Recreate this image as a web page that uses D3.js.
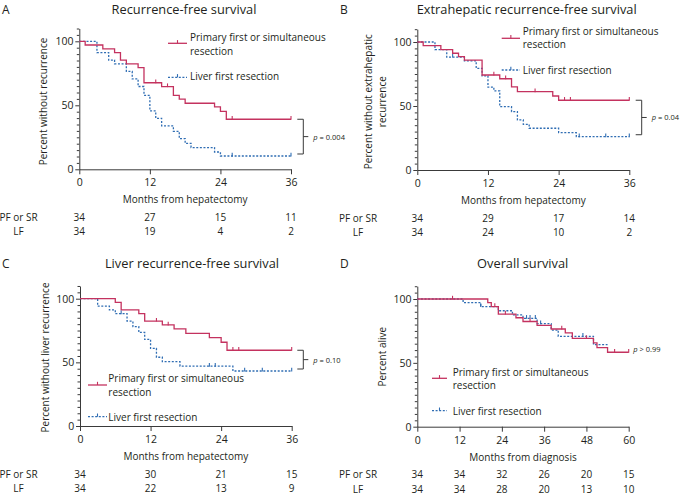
<!DOCTYPE html>
<html><head><meta charset="utf-8">
<script src="https://cdn.jsdelivr.net/npm/d3@7"></script>
<style>
body{margin:0;background:#fff}
svg{display:block}
text{font-family:'Open Sans',sans-serif;fill:#231f20}
</style>
</head><body>
<svg id="c" width="680" height="496"></svg>
<script>
// ---------- DATA ----------
const letters = ["A","B","C","D"];
const titles = ["Recurrence-free survival","Extrahepatic recurrence-free survival","Liver recurrence-free survival","Overall survival"];
const yLabelLines = [["Percent without recurrence"],["Percent without extrahepatic","recurrence"],["Percent without liver recurrence"],["Percent alive"]];
const xLabels = ["Months from hepatectomy","Months from hepatectomy","Months from hepatectomy","Months from diagnosis"];
const xTicks36 = [0,12,24,36];
const xTicks60 = [0,12,24,36,48,60];
const riskRowLabels = ["PF or SR","LF"];
const riskA_PF = [34,27,15,11], riskA_LF = [34,19,4,2];
const riskB_PF = [34,29,17,14], riskB_LF = [34,24,10,2];
const riskC_PF = [34,30,21,15], riskC_LF = [34,22,13,9];
const riskD_PF = [34,34,32,26,20,15], riskD_LF = [34,34,28,20,13,10];
const legendPF = ["Primary first or simultaneous","resection"];
const legendLF = "Liver first resection";
const pLabels = ["= 0.004","= 0.04","= 0.10","> 0.99"];

// Kaplan-Meier steps: [month, percent]
const A_PF = [[0,100],[1,97.1],[4,94.1],[6,91.2],[7,85.3],[8,82.4],[10,79.4],[11,67.6],[14,64.6],[16,57.8],[17,54.9],[18,51.6],[23,48.7],[24,45.3],[25,39.1]];
const A_PF_cens = [13,15,26,36];
const A_LF = [[0,100],[3,91.2],[5,85.3],[6,82.4],[8,76.5],[9,70.6],[10,64.7],[11,57.8],[12,45.6],[13,39.8],[14,34],[16,29.7],[17,24],[18,20.3],[19,17],[23,13.5],[24,10.4]];
const A_LF_cens = [26,36];

const B_PF = [[0,100],[1,97.1],[4,94.1],[6,91.2],[7,88.5],[8,85.9],[11,74.2],[14,71.3],[16,65],[17,61.2],[23,57.8],[24,54.5]];
const B_PF_cens = [13,15,20,25,26,36];
const B_LF = [[0,100],[3,94.1],[5,88.2],[8,85.3],[10,79.4],[11,73.5],[12,64.7],[13,61.8],[14,49.5],[16,45.6],[17,39.1],[18,35.7],[19,32.6],[24,29.2],[27,26]];
const B_LF_cens = [6,27.5,32,36];

const C_PF = [[0,100],[6,97.1],[7,91.2],[10,88.2],[11,82.4],[14,79.4],[16,76.3],[18,72.8],[22,69.4],[24,65.8],[25,59.5]];
const C_PF_cens = [13,15,26,27,36];
const C_LF = [[0,100],[3,94.1],[5,91.2],[6,88.2],[8,82.4],[9,78],[10,73.5],[11,68],[12,61],[13,54],[14,50.5],[17,47],[26,43.2]];
const C_LF_cens = [7,22,23,28,31,36];

const D_PF = [[0,100],[20,97.1],[21,94.1],[23,88.2],[28,85.3],[30,82.4],[34,79.4],[38,76.5],[42,73.5],[44,69.1],[50,65.6],[51,62],[54,58.3]];
const D_PF_cens = [10,22,25,32,41,48,56,60];
const D_LF = [[0,100],[13,97.1],[18,94.1],[23,90.8],[27,87.5],[30,84.9],[34,80.7],[38,75.7],[40,70.8],[50,64.3]];
const D_LF_cens = [18,31,32,33.5,35,47];
const seriesEndPF = [36,36,36,60];
const seriesEndLF = [36,36,36,54];

// ---------- STYLE / LAYOUT ----------
const RED = "#c4325f", BLUE = "#2f6db3", AX = "#3a3a3a";
const layout = [
  {x0:79.3,x1:291,yb:169.3,yt:41.3,xmax:36,ticks:xTicks36,tx:184,ty:14,lx:2,
   ylx:[42.5],yly:101.5,leg:{a:168,b:187,t:190,r:[37.3,50.7,76.3],ry:43.3,by:77.3},rlx:18.5,bx:303.3},
  {x0:417.3,x1:629.3,yb:170,yt:42,xmax:36,ticks:xTicks36,tx:526.7,ty:14,lx:340,
   ylx:[368,381.7],yly:101.7,leg:{a:501.7,b:520,t:522.7,r:[31,43.7,69.7],ry:38.3,by:70},rlx:358,bx:641.7},
  {x0:80,x1:291.7,yb:426,yt:298.7,xmax:36,ticks:xTicks36,tx:192,ty:268,lx:2,
   ylx:[45],yly:357.5,leg:{a:88,b:107,t:108.3,r:[378.3,391.7,416.7],ry:385,by:416.7},rlx:18.5,bx:303.3},
  {x0:417.3,x1:628.7,yb:426.7,yt:299,xmax:60,ticks:xTicks60,tx:522.7,ty:268,lx:340,
   ylx:[382.3],yly:356.7,leg:{a:432,b:447,t:452.7,r:[372,385,410.7],ry:378.3,by:410.7},rlx:358,px:633.3,py:349}
];
const pfSteps = [A_PF,B_PF,C_PF,D_PF], lfSteps = [A_LF,B_LF,C_LF,D_LF];
const pfCens = [A_PF_cens,B_PF_cens,C_PF_cens,D_PF_cens], lfCens = [A_LF_cens,B_LF_cens,C_LF_cens,D_LF_cens];
const riskPF = [riskA_PF,riskB_PF,riskC_PF,riskD_PF], riskLF = [riskA_LF,riskB_LF,riskC_LF,riskD_LF];

const svg = d3.select("#c");
function stepVal(steps,t){let v=steps[0][1];for(const s of steps){if(s[0]<=t)v=s[1];}return v;}

layout.forEach((L,i)=>{
  const g = svg.append("g");
  const x = d3.scaleLinear().domain([0,L.xmax]).range([L.x0,L.x1]);
  const ytop = L.yb - 1.1*(L.yb-L.yt);
  const y = d3.scaleLinear().domain([0,110]).range([L.yb,ytop]);

  // y axis
  const ya = d3.axisLeft(y).tickValues(d3.range(0,111,5)).tickSize(4).tickSizeOuter(0).tickPadding(1.8)
     .tickFormat(d=> d%50===0 ? d : "");
  const yg = g.append("g").attr("transform",`translate(${L.x0},0)`).call(ya);
  yg.selectAll(".tick line").attr("x2",d=> d%50===0 ? -4 : -2.5).attr("stroke",AX);
  yg.select(".domain").attr("stroke",AX);
  yg.selectAll("text").attr("font-size",10.5).attr("font-family","'Open Sans',sans-serif").attr("fill","#231f20");

  // x axis
  const xa = d3.axisBottom(x).tickValues(L.ticks).tickSize(5).tickSizeOuter(0).tickPadding(4.5);
  const xg = g.append("g").attr("transform",`translate(0,${L.yb})`).call(xa);
  xg.selectAll(".tick line").attr("stroke",AX);
  xg.select(".domain").attr("stroke",AX);
  xg.selectAll("text").attr("font-size",10.5).attr("font-family","'Open Sans',sans-serif").attr("fill","#231f20");

  // curves
  const line = d3.line().x(d=>x(d[0])).y(d=>y(d[1])).curve(d3.curveStepAfter);
  const pf = pfSteps[i], lf = lfSteps[i];
  const pfPts = pf.concat([[seriesEndPF[i], pf[pf.length-1][1]]]);
  const lfPts = lf.concat([[seriesEndLF[i], lf[lf.length-1][1]]]);
  g.append("path").attr("d",line(lfPts)).attr("fill","none").attr("stroke",BLUE).attr("stroke-width",1.3).attr("stroke-dasharray","2,1.6");
  g.append("path").attr("d",line(pfPts)).attr("fill","none").attr("stroke",RED).attr("stroke-width",1.3);
  g.selectAll(".cl").data(lfCens[i]).enter().append("line")
    .attr("x1",d=>x(d)).attr("x2",d=>x(d)).attr("y1",d=>y(stepVal(lf,d))-3.2).attr("y2",d=>y(stepVal(lf,d))+0.5)
    .attr("stroke",BLUE).attr("stroke-width",1.1);
  g.selectAll(".cp").data(pfCens[i]).enter().append("line")
    .attr("x1",d=>x(d)).attr("x2",d=>x(d)).attr("y1",d=>y(stepVal(pf,d))-3.2).attr("y2",d=>y(stepVal(pf,d))+0.5)
    .attr("stroke",RED).attr("stroke-width",1.1);

  // title and letter
  g.append("text").attr("x",L.tx).attr("y",L.ty).attr("text-anchor","middle").attr("font-size",12.8).text(titles[i]);
  g.append("text").attr("x",L.lx).attr("y",L.ty).attr("font-size",12).text(letters[i]);

  // y label
  const lines = yLabelLines[i];
  lines.forEach((t,k)=>{
    g.append("text").attr("transform",`translate(${L.ylx[k]},${L.yly}) rotate(-90)`)
     .attr("text-anchor","middle").attr("dominant-baseline","central").attr("font-size",10).text(t);
  });

  // x label
  g.append("text").attr("x",(L.x0+L.x1)/2).attr("y",L.yb+30).attr("text-anchor","middle")
   .attr("dominant-baseline","central").attr("font-size",10).text(xLabels[i]);

  // risk table
  [riskPF[i],riskLF[i]].forEach((row,r)=>{
    const yy = L.yb + (r===0 ? 47.5 : 62);
    g.append("text").attr("x",L.rlx).attr("y",yy).attr("text-anchor","middle").attr("dominant-baseline","central")
      .attr("font-size",10).text(riskRowLabels[r]);
    row.forEach((v,k)=>{
      g.append("text").attr("x",x(L.ticks[k])).attr("y",yy).attr("text-anchor","middle").attr("dominant-baseline","central")
       .attr("font-size",10).text(v);
    });
  });

  // legend
  const Lg = L.leg;
  g.append("line").attr("x1",Lg.a).attr("x2",Lg.b).attr("y1",Lg.ry).attr("y2",Lg.ry).attr("stroke",RED).attr("stroke-width",1.3);
  g.append("line").attr("x1",(Lg.a+Lg.b)/2).attr("x2",(Lg.a+Lg.b)/2).attr("y1",Lg.ry-3.2).attr("y2",Lg.ry).attr("stroke",RED).attr("stroke-width",1.1);
  g.append("line").attr("x1",Lg.a).attr("x2",Lg.b).attr("y1",Lg.by).attr("y2",Lg.by).attr("stroke",BLUE).attr("stroke-width",1.3).attr("stroke-dasharray","2,1.6");
  g.append("line").attr("x1",(Lg.a+Lg.b)/2).attr("x2",(Lg.a+Lg.b)/2).attr("y1",Lg.by-3.2).attr("y2",Lg.by).attr("stroke",BLUE).attr("stroke-width",1.1);
  [legendPF[0],legendPF[1],legendLF].forEach((t,k)=>{
    g.append("text").attr("x",Lg.t).attr("y",Lg.r[k]).attr("dominant-baseline","central").attr("font-size",10).text(t);
  });

  // p value
  let px, py;
  if (L.bx !== undefined) {
    const yr = y(pf[pf.length-1][1]), yl = y(lf[lf.length-1][1]) - 2;
    const ym = (yr+yl)/2;
    g.append("path").attr("d",`M${L.bx-6},${yr}H${L.bx}V${yl}H${L.bx-6}M${L.bx},${ym}H${L.bx+5}`)
      .attr("fill","none").attr("stroke",AX).attr("stroke-width",1);
    px = L.bx+10; py = ym;
  } else { px = L.px; py = L.py; }
  const pt = g.append("text").attr("x",px).attr("y",py).attr("dominant-baseline","central").attr("font-size",7.5);
  pt.append("tspan").attr("font-style","italic").text("p");
  pt.append("tspan").text(" " + pLabels[i]);
});
</script>
</body></html>
